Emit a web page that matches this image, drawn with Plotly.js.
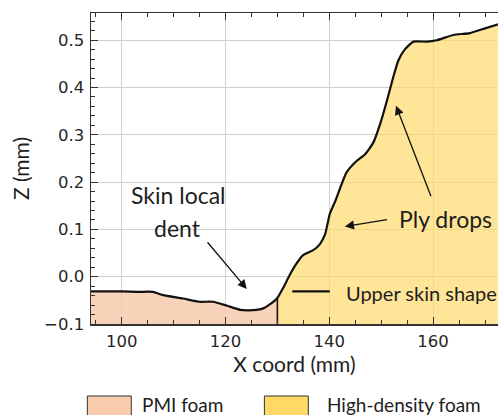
<!DOCTYPE html>
<html>
<head>
<meta charset="utf-8">
<script src="https://cdn.plot.ly/plotly-3.0.1.min.js"></script>
<style>html,body{margin:0;padding:0;background:#fff;}#chart{width:498px;height:415px;}</style>
</head>
<body>
<div id="chart"></div>
<script>
// Upper skin shape profile (X coord mm, Z mm)
const xCoord = [94.1, 96, 100, 103, 106, 108, 111.8, 115, 117.6, 120.2, 122.8, 124.5, 126, 127.3, 128.6, 130,
  131.1, 132.4, 133.7, 135.0, 136.9, 138.2, 139.2, 140.1, 141.2, 143.3, 145.3, 146.9, 148.5, 149.8,
  151.1, 152.3, 153.3, 154.6, 156.2, 158.8, 160.7, 163.9, 167.1, 169.7, 172.6];
const zCoord = [-0.031, -0.031, -0.031, -0.032, -0.032, -0.039, -0.046, -0.053, -0.053, -0.061, -0.070, -0.071, -0.070, -0.067, -0.058, -0.045,
  -0.024, 0.004, 0.028, 0.046, 0.056, 0.069, 0.090, 0.133, 0.161, 0.220, 0.245, 0.259, 0.284, 0.323,
  0.372, 0.421, 0.457, 0.481, 0.497, 0.497, 0.500, 0.511, 0.515, 0.524, 0.534];
const foamBoundaryX = 130;     // PMI foam | high-density foam interface
const zMin = -0.1;
const xTicks = [100, 120, 140, 160];
const yTicks = [-0.1, 0.0, 0.1, 0.2, 0.3, 0.4, 0.5];

const pmiIdx = xCoord.map((x, i) => i).filter(i => xCoord[i] <= foamBoundaryX);
const hdIdx = xCoord.map((x, i) => i).filter(i => xCoord[i] >= foamBoundaryX);
const pick = (arr, idx) => idx.map(i => arr[i]);
const zAtBoundary = zCoord[xCoord.indexOf(foamBoundaryX)];

const lineShape = {shape: 'spline', smoothing: 0.5};
const traces = [
  {x: pick(xCoord, pmiIdx), y: pmiIdx.map(() => zMin), mode: 'lines', line: {width: 0}, hoverinfo: 'skip', showlegend: false},
  {x: pick(xCoord, pmiIdx), y: pick(zCoord, pmiIdx), mode: 'lines', fill: 'tonexty',
   fillcolor: 'rgba(248,203,173,0.85)', line: Object.assign({width: 0}, lineShape), name: 'PMI foam', showlegend: false},
  {x: pick(xCoord, hdIdx), y: hdIdx.map(() => zMin), mode: 'lines', line: {width: 0}, hoverinfo: 'skip', showlegend: false},
  {x: pick(xCoord, hdIdx), y: pick(zCoord, hdIdx), mode: 'lines', fill: 'tonexty',
   fillcolor: 'rgba(255,217,102,0.68)', line: Object.assign({width: 0}, lineShape), name: 'High-density foam', showlegend: false},
  {x: [foamBoundaryX, foamBoundaryX], y: [zMin, zAtBoundary], mode: 'lines', line: {color: '#111', width: 1.6}, showlegend: false},
  {x: xCoord, y: zCoord, mode: 'lines', line: Object.assign({color: '#111', width: 2.2}, lineShape), name: 'Upper skin shape', showlegend: false}
];

const annFont = {family: 'Lato, sans-serif', size: 23, color: '#1e1e1e'};
const skinFont = {family: 'Lato, sans-serif', size: 20, color: '#1e1e1e'};
const legFont = {family: 'Lato, sans-serif', size: 19, color: '#1e1e1e'};
const titleFont = {family: 'Lato, sans-serif', size: 21, color: '#1e1e1e'};
const tickFont = {family: 'DejaVu Sans, sans-serif', size: 16.5, color: '#262626'};

function arrow(x0, y0, x1, y1) {
  return {x: x1, y: y1, ax: x0, ay: y0, xref: 'x', yref: 'y', axref: 'x', ayref: 'y', text: '',
    showarrow: true, arrowhead: 2, arrowsize: 1.4, arrowwidth: 1.3, arrowcolor: '#111', standoff: 0, startstandoff: 0};
}

const annotations = [
  {x: 110.95, y: 0.172, xref: 'x', yref: 'y', text: 'Skin local', yanchor: 'middle', showarrow: false, font: annFont},
  {x: 110.85, y: 0.104, xref: 'x', yref: 'y', text: 'dent', yanchor: 'middle', showarrow: false, font: annFont},
  arrow(116.3, 0.076, 124.1, -0.026),
  {x: 162.3, y: 0.1226, xref: 'x', yref: 'y', text: 'Ply drops', yanchor: 'middle', showarrow: false, font: annFont},
  arrow(151.4, 0.121, 143.0, 0.106),
  arrow(159.7, 0.167, 152.85, 0.3615),
  {x: 142.9, y: -0.034, xref: 'x', yref: 'y', text: 'Upper skin shape', xanchor: 'left', yanchor: 'middle', showarrow: false, font: skinFont},
  {x: 0.1207, y: -0.258, xref: 'paper', yref: 'paper', text: 'PMI foam', xanchor: 'left', yanchor: 'middle', showarrow: false, font: legFont},
  {x: 0.574, y: -0.258, xref: 'paper', yref: 'paper', text: 'High-density foam', xanchor: 'left', yanchor: 'middle', showarrow: false, font: legFont}
];

const shapes = [
  {type: 'line', xref: 'x', yref: 'y', x0: 132.87, x1: 140.1, y0: -0.031, y1: -0.031, line: {color: '#111', width: 2.2}},
  {type: 'rect', xref: 'paper', yref: 'paper', x0: -0.009, x1: 0.099, y0: -0.2315, y1: -0.30,
   fillcolor: '#f8cbad', line: {color: '#333', width: 1}},
  {type: 'rect', xref: 'paper', yref: 'paper', x0: 0.426, x1: 0.534, y0: -0.2315, y1: -0.30,
   fillcolor: '#ffd966', line: {color: '#333', width: 1}}
];

const layout = {
  width: 498, height: 415,
  margin: {l: 91, r: 0, t: 13, b: 91, pad: 0},
  paper_bgcolor: '#fff', plot_bgcolor: '#fff',
  showlegend: false,
  xaxis: {
    range: [94.1, 172.5], tickvals: xTicks, ticktext: xTicks.map(String),
    ticks: 'inside', ticklen: 7, tickwidth: 1.2, tickcolor: '#333',
    minor: {dtick: 5, tick0: 0, ticks: 'inside', ticklen: 4, tickwidth: 1, tickcolor: '#333', showgrid: false},
    showline: true, linecolor: '#333', linewidth: 1.5, mirror: 'ticks',
    showgrid: true, gridcolor: '#cfcfcf', gridwidth: 1.2, zeroline: false,
    tickfont: tickFont, ticklabelstandoff: 2,
    title: {text: 'X coord (mm)', font: titleFont, standoff: 7}
  },
  yaxis: {
    range: [-0.1, 0.5575], tickvals: yTicks, ticktext: yTicks.map(v => v.toFixed(1).replace('-', '\u2212')),
    ticks: 'inside', ticklen: 7, tickwidth: 1.2, tickcolor: '#333',
    minor: {dtick: 0.02, tick0: 0, ticks: 'inside', ticklen: 4, tickwidth: 1, tickcolor: '#333', showgrid: false},
    showline: true, linecolor: '#333', linewidth: 1.5, mirror: false,
    showgrid: true, gridcolor: '#cfcfcf', gridwidth: 1.2, zeroline: false,
    tickfont: tickFont, ticklabelstandoff: 2,
    title: {text: 'Z (mm)', font: titleFont, standoff: 9}
  },
  annotations: annotations,
  shapes: shapes
};

Plotly.newPlot('chart', traces, layout, {displayModeBar: false, staticPlot: true});
</script>
</body>
</html>
